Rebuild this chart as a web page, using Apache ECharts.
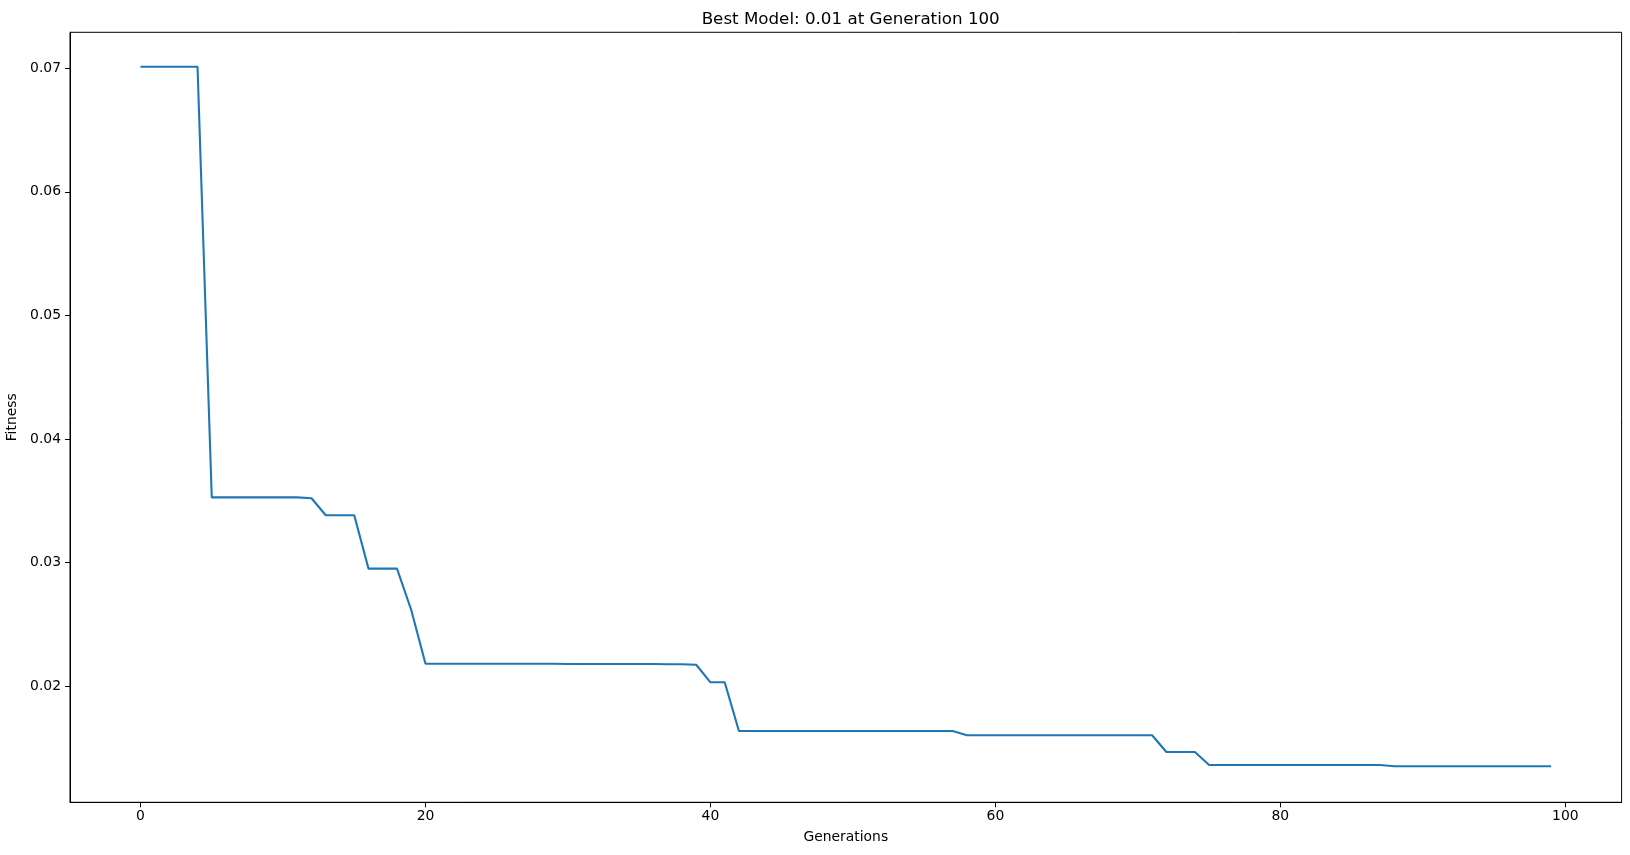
<!DOCTYPE html>
<html>
<head>
<meta charset="utf-8">
<script src="https://cdn.jsdelivr.net/npm/echarts@6/dist/echarts.min.js"></script>
<style>
html,body{margin:0;padding:0;background:#fff;}
#chart{width:1630px;height:855px;}
</style>
</head>
<body>
<div id="chart"></div>
<script>
const generations = Array.from({length: 100}, (_, i) => i);
const fitness = [
  0.07013, 0.07013, 0.07013, 0.07013, 0.07013,
  0.03527, 0.03527, 0.03527, 0.03527, 0.03527, 0.03527, 0.03527,
  0.03520,
  0.03382, 0.03382, 0.03382,
  0.02950, 0.02950, 0.02950,
  0.02615,
  0.02180, 0.02180, 0.02180, 0.02180, 0.02180, 0.02180, 0.02180, 0.02180, 0.02180, 0.02180,
  0.02178, 0.02178, 0.02178, 0.02178, 0.02178, 0.02178, 0.02178,
  0.02176, 0.02176,
  0.02172,
  0.02030, 0.02030,
  0.01636, 0.01636, 0.01636, 0.01636, 0.01636, 0.01636, 0.01636, 0.01636,
  0.01636, 0.01636, 0.01636, 0.01636, 0.01636, 0.01636, 0.01636, 0.01636,
  0.01601, 0.01601, 0.01601, 0.01601, 0.01601, 0.01601, 0.01601,
  0.01601, 0.01601, 0.01601, 0.01601, 0.01601, 0.01601, 0.01601,
  0.01466, 0.01466, 0.01466,
  0.01360, 0.01360, 0.01360, 0.01360, 0.01360, 0.01360, 0.01360,
  0.01360, 0.01360, 0.01360, 0.01360, 0.01360, 0.01360,
  0.01350, 0.01350, 0.01350, 0.01350, 0.01350, 0.01350,
  0.01350, 0.01350, 0.01350, 0.01350, 0.01350, 0.01350
];
const xTicks = [0, 20, 40, 60, 80, 100];
const yTicks = [0.02, 0.03, 0.04, 0.05, 0.06, 0.07];
const titleText = 'Best Model: 0.01 at Generation 100';

const font = 'DejaVu Sans';
const chart = echarts.init(document.getElementById('chart'));
chart.setOption({
  animation: false,
  backgroundColor: '#fff',
  title: {
    text: titleText,
    left: 845.7,
    textAlign: 'center',
    top: 6,
    textStyle: {fontFamily: font, fontSize: 16.7, fontWeight: 'normal', color: '#000'}
  },
  grid: {
    left: 70, right: 8.4, top: 32.3, bottom: 52.7,
    outerBoundsMode: 'none',
    containLabel: false,
    show: true, borderColor: '#000', borderWidth: 1, backgroundColor: 'transparent'
  },
  xAxis: {
    type: 'value',
    min: -4.95, max: 103.95,
    name: 'Generations',
    nameLocation: 'middle',
    nameGap: 28,
    nameTextStyle: {fontFamily: font, fontSize: 13.9, color: '#000'},
    splitLine: {show: false},
    axisLine: {show: true, onZero: false, lineStyle: {color: '#000', width: 1}},
    axisTick: {show: true, inside: false, length: 5, customValues: xTicks, lineStyle: {color: '#000', width: 1}},
    axisLabel: {customValues: xTicks, margin: 7, fontFamily: font, fontSize: 13.9, color: '#000'}
  },
  yAxis: {
    type: 'value',
    min: 0.010586, max: 0.072914,
    name: 'Fitness',
    nameLocation: 'middle',
    nameGap: 41,
    nameTextStyle: {fontFamily: font, fontSize: 13.9, color: '#000'},
    splitLine: {show: false},
    axisLine: {show: true, onZero: false, lineStyle: {color: '#000', width: 1}},
    axisTick: {show: true, inside: false, length: 5, customValues: yTicks, lineStyle: {color: '#000', width: 1}},
    axisLabel: {customValues: yTicks, margin: 9, fontFamily: font, fontSize: 13.9, color: '#000',
      formatter: v => v.toFixed(2)}
  },
  series: [{
    type: 'line',
    data: generations.map((g, i) => [g, fitness[i]]),
    showSymbol: false,
    symbol: 'none',
    lineStyle: {color: '#1f77b4', width: 2.1},
    itemStyle: {color: '#1f77b4'}
  }]
});
</script>
</body>
</html>
